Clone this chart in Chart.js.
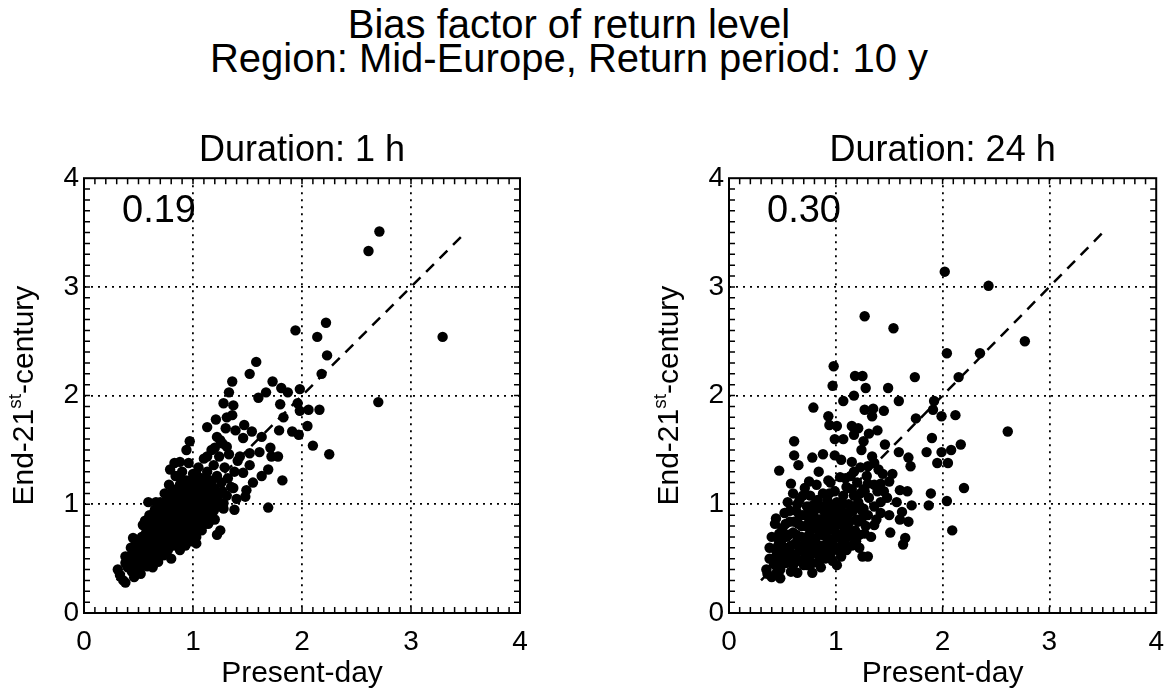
<!DOCTYPE html>
<html>
<head>
<meta charset="utf-8">
<script src="https://cdn.jsdelivr.net/npm/chart.js@4.4.1/dist/chart.umd.min.js"></script>
<style>
  body { margin: 0; background: #fff; }
  #wrap { position: relative; width: 1176px; height: 697px; overflow: hidden; }
  #title {
    position: absolute; left: 0; top: 7px; width: 1138px;
    text-align: center; font: 40px "Liberation Sans", Arial, sans-serif;
    line-height: 34px; color: #000;
  }
  canvas { position: absolute; top: 0; }
</style>
</head>
<body>
<div id="wrap">
  <div id="title">Bias factor of return level<br>Region: Mid-Europe, Return period: 10 y</div>
  <canvas id="c1" width="588" height="697" style="left:0"></canvas>
  <canvas id="c2" width="588" height="697" style="left:588px"></canvas>
</div>
<script>
const FONT = '"Liberation Sans", Arial, sans-serif';

const axisTicks = [0, 1, 2, 3, 4];
const diagX = [0.3, 3.5];
const diagY = [0.3, 3.5];

// [present-day, end-21st-century] bias factors, duration 1 h
const pts1h = [
  [2.71,3.51],[2.61,3.33],[3.29,2.54],[2.70,1.94],[2.22,2.67],[1.94,2.60],[2.14,2.54],[2.23,2.37],[2.18,2.20],
  [1.58,2.31],[1.52,2.20],[1.36,2.13],[1.73,2.13],[1.81,2.07],[1.87,2.03],[1.98,2.06],[1.60,1.98],[1.67,2.03],[1.33,2.03],
  [1.80,1.92],[1.96,1.93],[2.06,1.87],[2.16,1.87],[1.83,1.80],[1.98,1.86],[2.05,1.72],[1.79,1.68],[1.91,1.67],[1.97,1.64],
  [2.10,1.54],[2.25,1.46],[1.82,1.22],[1.69,0.97],[1.13,1.71],[1.21,1.78],[1.28,1.93],[1.37,1.91],[1.31,1.80],[1.47,1.73],
  [1.54,1.67],[1.63,1.62],[1.46,1.61],[1.39,1.68],[1.25,1.59],[1.31,1.53],[1.20,1.52],[0.97,1.58],[0.94,1.50],[1.13,1.44],
  [0.79,1.32],[0.83,1.38],[0.88,1.39],[1.43,1.44],[1.52,1.47],[1.61,1.48],[1.71,1.52],[1.72,1.44],[1.78,1.44],[1.69,1.32],
  [1.63,1.26],[1.52,1.36],[1.46,1.29],[1.55,1.20],[1.49,1.13],[1.37,1.15],[1.48,1.07],[1.28,1.01],[1.38,0.95],[1.25,0.76],
  [1.22,0.72],[0.59,1.02],[0.45,0.69],[0.38,0.52],[0.31,0.40],[0.38,0.28],[0.51,0.38],[0.54,0.81],[1.03,0.64],[0.88,0.60],
  [0.33,0.35],[0.36,0.30],[0.38,0.46],[0.43,0.60],[0.46,0.33],[0.52,0.36],[0.56,0.85],[0.63,0.42],[0.66,1.02],
  [0.40,0.42],[0.42,0.48],[0.44,0.38],[0.45,0.55],[0.47,0.45],[0.48,0.62],[0.50,0.50],[0.50,0.40],[0.52,0.58],[0.53,0.70],
  [0.55,0.47],[0.55,0.64],[0.57,0.78],[0.58,0.55],[0.58,0.43],[0.60,0.68],[0.60,0.90],[0.62,0.60],[0.62,0.50],[0.63,0.80],
  [0.64,0.72],[0.65,0.95],[0.66,0.56],[0.67,0.66],[0.68,0.86],[0.68,0.47],[0.69,0.76],[0.70,1.02],[0.70,0.60],[0.71,0.92],
  [0.72,0.70],[0.73,0.82],[0.73,0.53],[0.74,1.10],[0.75,0.64],[0.75,0.96],[0.76,0.75],[0.77,0.88],[0.77,0.58],[0.78,1.18],
  [0.78,0.68],[0.79,1.03],[0.80,0.80],[0.80,0.50],[0.81,0.92],[0.82,0.62],[0.82,1.12],[0.83,0.72],[0.84,1.26],[0.84,0.85],
  [0.85,0.98],[0.86,0.66],[0.86,1.06],[0.87,0.78],[0.88,0.58],[0.88,1.18],[0.89,0.90],[0.90,1.30],[0.90,0.70],[0.91,1.00],
  [0.92,0.82],[0.92,1.10],[0.93,0.62],[0.94,0.94],[0.94,1.22],[0.95,0.74],[0.96,1.04],[0.96,1.38],[0.97,0.86],[0.98,1.14],
  [0.98,0.66],[0.99,0.97],[1.00,1.28],[1.00,0.78],[1.01,1.08],[1.02,0.90],[1.02,1.20],[1.03,0.70],[1.04,1.00],[1.05,1.34],
  [1.05,0.84],[1.06,1.12],[1.07,0.94],[1.08,1.24],[1.08,0.76],[1.09,1.04],[1.10,0.88],[1.10,1.42],[1.11,1.16],[1.12,0.98],
  [1.13,1.30],[1.14,0.82],[1.15,1.08],[1.16,1.22],[1.16,0.92],[1.17,1.50],[1.18,1.02],[1.19,1.36],[1.20,1.14],[1.20,0.86],
  [1.22,1.26],[1.22,1.62],[1.23,0.98],[1.24,1.44],[1.25,1.10],[1.26,1.20],[1.27,1.56],[1.28,0.96],[1.29,1.34],[1.30,1.70],
  [1.31,1.08],[1.32,1.24],[1.33,1.46],[1.35,1.16],[1.36,1.82],[1.38,1.30],[1.40,1.05],[1.41,1.40],
  [0.46,0.52],[0.49,0.56],[0.51,0.66],[0.53,0.52],[0.54,0.44],[0.56,0.72],[0.57,0.60],[0.59,0.48],[0.59,0.84],[0.61,0.74],
  [0.61,0.56],[0.63,0.66],[0.64,0.88],[0.65,0.52],[0.66,0.78],[0.67,0.92],[0.69,0.64],[0.69,0.54],[0.70,0.84],[0.71,0.72],
  [0.72,0.98],[0.73,0.62],[0.74,0.78],[0.74,0.90],[0.76,0.68],[0.76,1.04],[0.77,0.82],[0.78,0.94],[0.79,0.62],[0.80,0.74],
  [0.80,1.10],[0.81,0.86],[0.82,0.98],[0.83,0.66],[0.84,0.78],[0.85,1.14],[0.85,0.90],[0.86,0.72],[0.87,1.02],[0.88,0.84],
  [0.89,0.66],[0.89,1.24],[0.90,0.96],[0.91,0.78],[0.91,1.14],[0.92,0.90],[0.93,1.04],[0.93,0.72],[0.94,0.86],[0.95,1.16],
  [0.95,0.98],[0.96,0.80],[0.97,1.08],[0.97,0.70],[0.98,0.92],[0.99,1.22],[0.99,0.84],[1.00,1.02],[1.01,0.74],[1.01,1.14],
  [1.02,0.96],[1.03,0.86],[1.03,1.28],[1.04,1.08],[1.04,0.78],[1.06,1.00],[1.06,0.90],[1.07,1.18],[1.07,0.82],[1.09,1.12],
  [1.09,0.96],[1.11,1.04],[1.11,0.82],[1.12,1.24],[1.13,0.92],[1.14,1.14],[1.15,1.00],[1.17,0.86],[1.18,1.16],[1.19,0.94],
  [1.21,1.08],[1.24,1.02],[1.27,1.12]
];

// duration 24 h
const pts24h = [
  [2.02,3.14],[2.43,3.01],[1.27,2.73],[1.54,2.62],[2.77,2.50],[2.04,2.39],[2.35,2.39],[0.98,2.27],[1.18,2.18],[1.25,2.18],
  [1.74,2.17],[2.15,2.17],[0.97,2.09],[1.28,2.07],[1.49,2.07],[1.17,2.00],[1.07,1.95],[1.59,1.95],[1.92,1.95],[0.79,1.89],
  [1.27,1.87],[1.35,1.88],[1.45,1.86],[1.34,1.81],[0.93,1.81],[1.75,1.79],[1.99,1.81],[2.12,1.82],[1.91,1.87],[0.94,1.73],
  [1.01,1.72],[1.15,1.72],[1.21,1.70],[1.39,1.68],[1.31,1.65],[2.61,1.67],[1.17,1.64],[0.99,1.60],[1.07,1.60],[1.90,1.61],
  [0.61,1.58],[1.26,1.58],[1.46,1.55],[2.17,1.55],[1.24,1.50],[2.08,1.50],[1.99,1.48],[1.85,1.48],[1.59,1.48],[1.68,1.43],
  [0.61,1.45],[0.78,1.43],[0.88,1.46],[0.99,1.45],[1.05,1.41],[1.15,1.39],[1.36,1.38],[1.30,1.35],[1.95,1.38],[2.05,1.38],
  [1.70,1.35],[0.65,1.36],[0.47,1.31],[0.84,1.30],[1.17,1.30],[1.44,1.28],[1.53,1.28],[0.58,1.19],[0.75,1.21],[0.93,1.22],
  [1.30,1.19],[1.42,1.19],[1.50,1.21],[2.20,1.15],[1.27,1.12],[1.39,1.12],[1.60,1.13],[1.67,1.12],[1.89,1.10],[1.48,1.06],
  [1.57,1.02],[1.71,0.99],[1.87,0.99],[2.04,1.03],[1.36,0.98],[1.24,0.95],[1.42,0.92],[1.50,0.90],[1.62,0.93],[1.60,0.86],
  [1.68,0.84],[1.36,0.81],[1.51,0.74],[2.09,0.76],[1.22,0.72],[1.27,0.73],[1.65,0.69],[1.63,0.63],[1.25,0.52],[1.30,0.52],
  [1.05,0.55],[1.01,0.44],[0.78,0.37],[0.64,0.37],[0.48,0.32],[0.40,0.33],[0.35,0.40],[0.38,0.60],[0.44,0.87],[0.47,0.73],
  [0.84,0.46],[1.11,0.61],[1.17,0.70],
  [0.36,0.36],[0.38,0.50],[0.40,0.70],[0.43,0.82],[0.45,0.38],
  [0.42,0.45],[0.44,0.58],[0.46,0.50],[0.47,0.66],[0.48,0.40],[0.50,0.78],[0.51,0.55],[0.52,0.92],[0.53,0.46],[0.54,0.70],
  [0.55,1.02],[0.56,0.60],[0.57,0.84],[0.58,0.38],[0.59,0.52],[0.60,0.74],[0.60,1.10],[0.62,0.64],[0.63,0.94],[0.64,0.48],
  [0.65,0.82],[0.66,1.04],[0.67,0.58],[0.68,0.70],[0.69,0.90],[0.70,0.44],[0.71,1.15],[0.72,0.62],[0.72,0.80],[0.73,0.98],
  [0.74,0.52],[0.75,0.72],[0.76,1.08],[0.77,0.88],[0.78,0.60],[0.78,0.46],[0.79,0.78],[0.80,1.00],[0.81,0.68],[0.82,1.18],
  [0.83,0.55],[0.84,0.86],[0.85,0.74],[0.86,0.96],[0.86,0.42],[0.87,0.62],[0.88,1.10],[0.89,0.80],[0.90,0.50],[0.90,0.92],
  [0.91,0.70],[0.92,1.04],[0.93,0.58],[0.94,0.84],[0.95,1.20],[0.96,0.66],[0.96,0.98],[0.97,0.48],[0.98,0.76],[0.99,1.12],
  [1.00,0.88],[1.00,0.60],[1.01,1.02],[1.02,0.70],[1.03,0.82],[1.04,1.25],[1.05,0.94],[1.05,0.52],[1.06,0.64],[1.07,1.08],
  [1.08,0.78],[1.09,0.90],[1.10,1.16],[1.10,0.58],[1.11,0.70],[1.12,1.00],[1.13,0.84],[1.14,1.26],[1.15,0.62],[1.16,0.94],
  [1.17,1.08],[1.18,0.76],[1.19,0.86],[1.20,1.20],[1.21,1.02],[1.22,0.60],[1.23,1.34],[1.25,0.88],[1.26,1.14],[1.28,0.80],
  [1.29,1.26],[1.31,1.06],[1.33,0.70],[1.34,1.44],[1.36,1.18],[1.38,0.86],[1.40,1.32],[1.42,1.02],[1.45,1.12],
  [0.44,0.52],[0.46,0.62],[0.49,0.46],[0.50,0.68],[0.52,0.60],[0.53,0.82],[0.55,0.52],[0.56,0.72],[0.57,0.94],[0.58,0.62],
  [0.60,0.44],[0.61,0.84],[0.62,0.54],[0.63,0.72],[0.64,1.00],[0.65,0.62],[0.66,0.90],[0.67,0.48],[0.68,0.80],[0.69,1.08],
  [0.70,0.56],[0.71,0.68],[0.72,0.90],[0.73,0.44],[0.74,0.62],[0.75,0.84],[0.76,0.98],[0.77,0.54],[0.77,0.70],[0.79,0.92],
  [0.80,0.56],[0.80,0.66],[0.82,0.80],[0.83,1.04],[0.84,0.62],[0.85,0.50],[0.86,0.86],[0.87,0.72],[0.88,0.98],[0.89,0.58],
  [0.91,0.86],[0.92,0.64],[0.93,0.76],[0.94,1.10],[0.95,0.54],[0.96,0.90],[0.98,0.68],[0.99,1.00],[1.00,0.80],[1.02,0.58],
  [1.03,0.94],[1.04,0.72],[1.06,0.86],[1.07,1.00],[1.08,0.66],[1.09,1.24],[1.11,0.80],[1.12,0.92],[1.14,0.72],[1.15,1.14],
  [1.17,0.98],[1.19,0.66],[1.21,0.84],[1.23,1.10],[1.26,0.96],[1.30,0.90]
];

// IDL-style box: frame, inward minor ticks, correlation note, y title with superscript
const idlFrame = {
  id: 'idlFrame',
  afterDatasetsDraw(chart, args, opts) {
    const { ctx, chartArea: a, scales: { x, y } } = chart;
    ctx.save();
    ctx.strokeStyle = '#000';
    ctx.lineWidth = 2;
    ctx.strokeRect(a.left, a.top, a.right - a.left, a.bottom - a.top);
    ctx.lineWidth = 1.5;
    ctx.beginPath();
    for (let i = 1; i < 40; i++) {
      const v = i / 10;
      const px = x.getPixelForValue(v), py = y.getPixelForValue(v);
      const len = 6;
      ctx.moveTo(px, a.bottom); ctx.lineTo(px, a.bottom - len);
      ctx.moveTo(px, a.top); ctx.lineTo(px, a.top + len);
      ctx.moveTo(a.left, py); ctx.lineTo(a.left + len, py);
      ctx.moveTo(a.right, py); ctx.lineTo(a.right - len, py);
    }
    ctx.stroke();

    ctx.fillStyle = '#000';
    ctx.textBaseline = 'alphabetic';
    ctx.textAlign = 'left';
    ctx.font = '38px ' + FONT;
    ctx.fillText(opts.note, a.left + 38, a.top + 44);

    // rotated axis title
    const parts = [['End-21', '30px ' + FONT, 0], ['st', '19px ' + FONT, -12], ['-century', '30px ' + FONT, 0]];
    let total = 0;
    parts.forEach(p => { ctx.font = p[1]; total += ctx.measureText(p[0]).width; });
    ctx.translate(a.left - 51, (a.top + a.bottom) / 2);
    ctx.rotate(-Math.PI / 2);
    let cx = -total / 2;
    parts.forEach(p => {
      ctx.font = p[1];
      ctx.fillText(p[0], cx, p[2]);
      cx += ctx.measureText(p[0]).width;
    });
    ctx.restore();
  }
};

function makePanel(id, pts, title, note, yWidth, rightPad) {
  const gridColor = c => (c.tick && (c.tick.value === 0 || c.tick.value === 4)) ? 'rgba(0,0,0,0)' : '#000';
  return new Chart(document.getElementById(id), {
    type: 'scatter',
    data: {
      datasets: [
        {
          type: 'line',
          data: diagX.map((v, i) => ({ x: v, y: diagY[i] })),
          borderColor: '#000',
          borderWidth: 2.5,
          borderDash: [11, 8],
          pointRadius: 0,
          fill: false,
          order: 0
        },
        {
          data: pts.map(p => ({ x: p[0], y: p[1] })),
          backgroundColor: '#000',
          borderWidth: 0,
          pointRadius: 5.2,
          pointHoverRadius: 5.2,
          order: 1
        }
      ]
    },
    options: {
      responsive: false,
      animation: false,
      layout: { padding: { left: 0, right: rightPad, top: 0, bottom: 0 } },
      plugins: {
        legend: { display: false },
        tooltip: { enabled: false },
        title: {
          display: true,
          text: title,
          fullSize: false,
          color: '#000',
          font: { family: FONT, size: 36, weight: 'normal' },
          padding: { top: 129, bottom: 6 }
        },
        idlFrame: { note: note }
      },
      scales: {
        x: {
          type: 'linear', min: 0, max: 4,
          afterBuildTicks: s => { s.ticks = axisTicks.map(v => ({ value: v })); },
          afterFit: s => { s.height = 84; },
          ticks: { color: '#000', font: { family: FONT, size: 28 }, padding: 12, maxRotation: 0 },
          grid: { color: gridColor, lineWidth: 1.8, drawTicks: false },
          border: { display: false, dash: [2, 5] },
          title: { display: true, text: 'Present-day', color: '#000', font: { family: FONT, size: 30 }, padding: { top: 0, bottom: 5 } }
        },
        y: {
          type: 'linear', min: 0, max: 4,
          afterBuildTicks: s => { s.ticks = axisTicks.map(v => ({ value: v })); },
          afterFit: s => { s.width = yWidth; },
          ticks: { color: '#000', font: { family: FONT, size: 28 }, padding: 5 },
          grid: { color: gridColor, lineWidth: 1.8, drawTicks: false },
          border: { display: false, dash: [2, 5] }
        }
      }
    },
    plugins: [idlFrame]
  });
}

makePanel('c1', pts1h, 'Duration: 1 h', '0.19', 84, 68);
makePanel('c2', pts24h, 'Duration: 24 h', '0.30', 141, 12);
</script>
</body>
</html>
